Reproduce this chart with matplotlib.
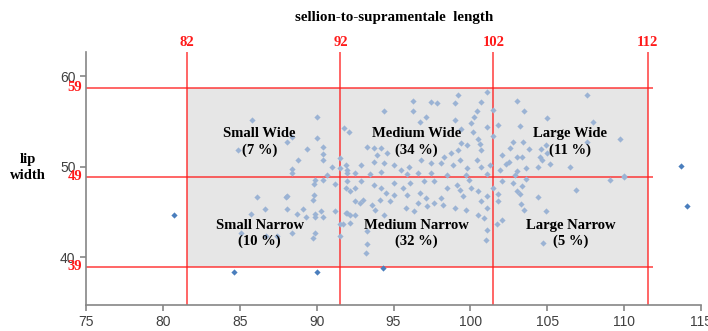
import matplotlib.pyplot as plt
import matplotlib.patches as patches

# sellion-to-supramentale length (x) vs lip width (y)
pts_x = [
    # small wide
    85.8, 90.05, 84.9, 90.05, 88.05, 88.4, 89.35, 90.4, 90.4, 90.4, 88.8, 88.4, 88.4,
    91.0, 91.5, 90.7, 91.5,
    # small narrow
    89.9, 90.4, 89.8, 91.2, 89.8, 89.75, 86.1, 88.0, 88.1, 86.65, 88.05, 85.7, 88.7,
    89.1, 89.3, 89.9, 89.9, 90.3, 90.4, 91.2, 91.5, 91.5, 89.9, 89.75, 85.1, 86.7,
    87.4, 88.4,
    # medium wide
    101.1, 99.2, 96.25, 97.45, 97.8, 99.0, 100.7, 94.35, 96.25, 100.4, 100.25, 101.45,
    97.1, 99.0, 96.7, 100.05, 101.1, 91.8, 92.1, 99.4, 100.2, 101.45, 100.5, 99.4,
    99.8, 100.6, 100.7, 93.3, 93.7, 94.2, 93.95, 94.6, 93.7, 94.4, 92.9, 91.9, 92.0,
    92.5, 93.5, 94.2, 95.05, 95.5, 96.0, 95.9, 96.8, 97.45, 98.1, 98.3, 98.75, 99.2,
    98.85, 99.3, 99.8, 100.4, 100.7, 101.25, 97.45, 98.5, 96.6, 99.7, 101.1, 92.0,
    # medium narrow
    92.2, 92.5, 93.0, 92.8, 92.2, 92.5, 91.9, 91.7, 93.7, 94.2, 94.5, 94.1, 93.6,
    93.8, 94.4, 94.8, 95.05, 95.05, 95.6, 95.9, 96.1, 96.7, 96.6, 96.35, 97.1, 97.2,
    97.65, 98.1, 98.2, 98.5, 99.1, 99.3, 99.5, 99.0, 100.05, 100.5, 100.7, 101.1,
    100.9, 100.5, 99.7, 101.1, 101.45, 99.9, 97.65, 97.0, 92.9, 91.9, 93.3, 93.2,
    93.3, 101.0, 101.1, 95.8, 92.0, 92.5, 92.0, 92.2,
    # large wide
    103.0, 107.6, 103.5, 105.0, 101.8, 103.2, 108.0, 109.7, 102.8, 103.4, 102.6, 103.8,
    104.6, 104.9, 107.6, 102.05, 103.0, 103.35, 102.5, 102.3, 104.55, 104.65, 105.2,
    104.4, 106.5, 101.9, 103.0, 103.6, 110.0, 105.0, 102.9,
    # large narrow
    103.6, 102.05, 109.1, 110.0, 102.8, 103.35, 103.0, 103.2, 106.9, 101.8, 101.8,
    104.4, 103.3, 103.5, 104.9, 102.05, 101.7, 104.7,
]
pts_y = [
    55.1, 55.5, 51.8, 53.2, 52.7, 53.3, 51.9, 52.2, 51.4, 50.7, 50.7, 49.7, 49.3,
    50.0, 51.0, 49.1, 49.8,
    48.5, 48.5, 48.1, 48.1, 46.9, 46.3, 46.6, 46.6, 46.8, 45.3, 45.3, 44.8, 44.8,
    45.3, 44.4, 44.8, 44.4, 45.1, 44.4, 45.1, 43.6, 42.3, 42.7, 42.1, 42.7, 42.3,
    42.3, 42.7,
    58.2, 57.9, 57.3, 57.1, 57.0, 57.0, 57.1, 56.1, 56.1, 56.2, 55.5, 56.3,
    55.5, 55.2, 54.9, 54.8, 54.4, 54.3, 53.8, 54.2, 53.8, 53.4, 53.1, 52.6,
    52.4, 52.5, 51.8, 52.2, 52.1, 52.0, 51.3, 51.5, 50.5, 50.4, 50.2, 50.2, 49.6,
    49.3, 49.2, 49.4, 50.2, 49.6, 50.0, 49.2, 50.7, 50.4, 50.4, 51.1, 51.5, 51.8,
    50.2, 50.7, 49.8, 50.7, 50.0, 50.2, 49.3, 49.1, 49.3, 49.1, 49.2, 49.3,
    47.3, 47.6, 46.3, 46.0, 44.7, 44.7, 44.9, 43.6, 48.0, 47.6, 47.1, 46.3, 45.8,
    45.2, 44.7, 46.2, 46.9, 48.2, 47.6, 46.9, 48.2, 47.1, 46.0, 45.1, 46.5, 45.6,
    46.0, 46.5, 45.8, 47.6, 48.0, 47.4, 46.7, 45.4, 47.6, 47.3, 46.2, 45.4,
    44.3, 44.7, 45.2, 46.7, 47.6, 48.5, 48.4, 48.4, 48.4, 47.6, 42.9, 40.5,
    41.4, 41.9, 43.0, 45.4, 48.4, 46.2, 44.9, 43.8,
    57.3, 57.9, 56.1, 55.4, 54.6, 54.5, 54.9, 53.1, 52.7, 52.7, 52.0, 51.9,
    51.9, 52.4, 52.7, 51.3, 51.1, 51.1, 50.5, 50.3, 51.1, 50.7, 50.3,
    50.0, 49.9, 49.6, 49.5, 49.8, 49.0, 51.5, 49.1,
    48.6, 48.4, 48.5, 48.8, 48.2, 47.8, 47.3, 47.0, 47.4, 47.0, 46.2,
    46.6, 45.9, 45.2, 45.1, 44.1, 43.6, 41.5,
]
out_x = [80.7, 84.6, 90.0, 94.3, 113.7, 114.1]
out_y = [44.7, 38.4, 38.4, 38.8, 50.1, 45.6]

x_cuts = [81.55, 91.55, 101.5, 111.55]
x_cut_labels = ['82', '92', '102', '112']
y_cuts = [38.95, 48.85, 58.72]
y_cut_labels = ['39', '49', '59']

region_labels = ['Small Wide\n(7 %)', 'Medium Wide\n(34 %)', 'Large Wide\n(11 %)',
                 'Small Narrow\n(10 %)', 'Medium Narrow\n(32 %)', 'Large Narrow\n(5 %)']
region_cx = [86.3, 96.5, 106.5, 86.3, 96.5, 106.5]
region_cy = [52.7, 52.7, 52.7, 42.6, 42.6, 42.6]

serif = 'Liberation Serif'
red = '#ff1a1a'

fig = plt.figure(figsize=(7.08, 3.31), dpi=100)
ax = fig.add_axes([86 / 708, 26 / 331, 615 / 708, 253.3 / 331])
ax.set_xlim(75, 115)
ax.set_ylim(34.7, 62.7)

# grey box
ax.add_patch(patches.Rectangle((x_cuts[0], y_cuts[0]), x_cuts[-1] - x_cuts[0],
                               y_cuts[-1] - y_cuts[0], facecolor='#e6e6e6',
                               edgecolor='none', zorder=0))

for xc in x_cuts:
    ax.axvline(xc, color=red, lw=1.1, alpha=0.85, zorder=1)
ax.hlines(y_cuts, 75, 111.85, color=red, lw=1.1, alpha=0.85, zorder=1)

ax.scatter(pts_x, pts_y, marker='D', s=10, color='#9bb3d4', linewidths=0, zorder=2)
ax.scatter(out_x, out_y, marker='D', s=10, color='#4a7ebd', linewidths=0, zorder=2)

for xc, lab in zip(x_cuts, x_cut_labels):
    ax.text(xc, 1.0355, lab, transform=ax.get_xaxis_transform(), ha='center',
            va='center', color=red, fontsize=10.5, fontweight='bold', family=serif)
for yc, lab in zip(y_cuts, y_cut_labels):
    ax.text(-0.006, yc, lab, transform=ax.get_yaxis_transform(), ha='right',
            va='center', color=red, fontsize=10.5, fontweight='bold', family=serif)

for lab, cx, cy in zip(region_labels, region_cx, region_cy):
    ax.text(cx, cy, lab, ha='center', va='center', fontsize=10.5, fontweight='bold',
            family=serif, linespacing=1.3, zorder=3)

fig.text(394 / 708, 1 - 17 / 331, 'sellion-to-supramentale  length', ha='center',
         va='center', fontsize=10.8, fontweight='bold', family=serif)
fig.text(28 / 708, 1 - 167.5 / 331, 'lip\nwidth', ha='center', va='center',
         fontsize=10.5, fontweight='bold', family=serif, linespacing=1.25)

ax.set_xticks(range(75, 116, 5))
ax.set_yticks([40, 50, 60])
for sp in ['top', 'right']:
    ax.spines[sp].set_visible(False)
for sp in ['left', 'bottom']:
    ax.spines[sp].set_color('#868686')
    ax.spines[sp].set_linewidth(1.2)
ax.tick_params(colors='#868686', length=4, width=1.2, labelsize=10,
               labelcolor='#404040')
for t in ax.get_xticklabels() + ax.get_yticklabels():
    t.set_family('Liberation Sans')

fig.savefig('out.png', dpi=100)
